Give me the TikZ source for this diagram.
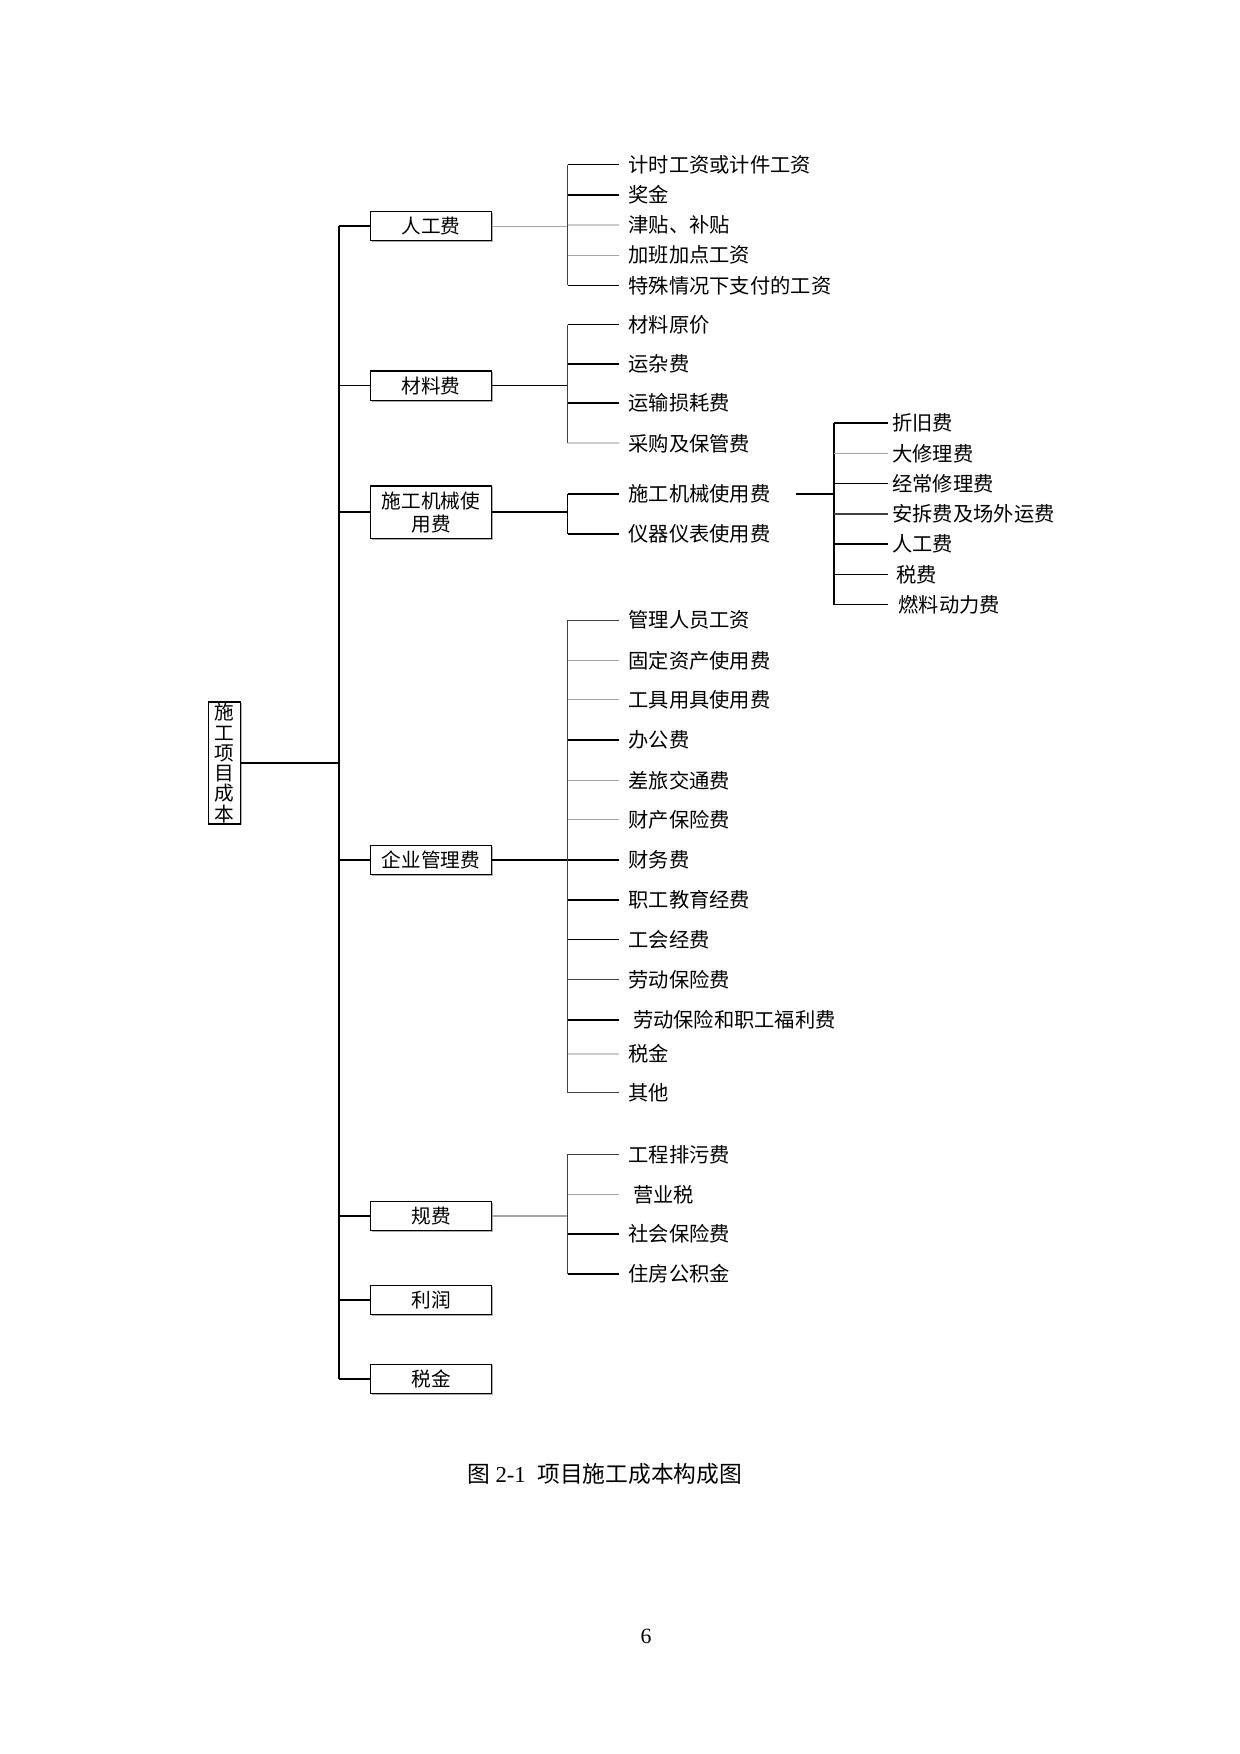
\documentclass[tikz,border=0pt]{standalone}
\usepackage{fontspec}
\setmainfont{Liberation Serif}
\newfontfamily\cjk{Noto Sans CJK SC}
\usetikzlibrary{shadows}
\begin{document}
\begin{tikzpicture}[x=0.541pt,y=-0.541pt,
  box/.style={draw=black, line width=0.6pt, fill=white, minimum width=58.4pt,
    minimum height=14.1pt, inner sep=0pt, align=center,
    font=\cjk\fontsize{9.5}{11}\selectfont,
    drop shadow={shadow xshift=0.6pt, shadow yshift=-0.6pt, fill=gray!80, opacity=0.8}},
  leaf/.style={anchor=west, inner xsep=4.3pt, inner ysep=0pt,
    font=\cjk\fontsize{9.8}{11}\selectfont},
  wk/.style={line width=0.75pt, black},
  wd/.style={line width=0.6pt, black!75},
  wg/.style={line width=0.6pt, gray!70},
  wl/.style={line width=0.9pt, gray!40},
  spine/.style={line width=0.75pt, black}]
\useasboundingbox (0,0) rectangle (1107.5,1566.6);

% ---------- root and level-1 boxes
\node[box, minimum width=15.7pt, minimum height=59pt,
      font=\cjk\fontsize{9.5}{9.8}\selectfont] (root) at (200.5,681.5) {施\\工\\项\\目\\成\\本};
\node[box] (l1) at (385,202) {人工费};
\node[box] (l2) at (385,344.5) {材料费};
\node[box, minimum height=25.4pt] (l3) at (385,457.5) {施工机械使\\用费};
\node[box] (l4) at (385,768) {企业管理费};
\node[box] (l5) at (385,1086) {规费};
\node[box] (l6) at (385,1161) {利润};
\node[box] (l7) at (385,1231.5) {税金};

\coordinate (sp) at (303,0);
\draw[spine] (l1.west -| sp) -- (l7.west -| sp);
\draw[wk] (root.east) -- (root.east -| sp);
\foreach \b in {l1,l2,l3,l4,l5,l6,l7} {\draw[wk] (\b.west) -- (\b.west -| sp);}

\coordinate (br) at (507,0);

% ---------- 人工费
\node[leaf] (a1) at (553,147) {计时工资或计件工资};
\node[leaf] (a2) at (553,174) {奖金};
\node[leaf] (a3) at (553,201) {津贴、补贴};
\node[leaf] (a4) at (553,228) {加班加点工资};
\node[leaf] (a5) at (553,255) {特殊情况下支付的工资};
\draw[wg] (l1.east) -- (l1.east -| br);
\draw[wd] (a1.west -| br) -- (a5.west -| br);
\draw[wk] (a1.west) -- (a1.west -| br);
\draw[wk] (a2.west) -- (a2.west -| br);
\draw[wl] (a3.west) -- (a3.west -| br);
\draw[wg] (a4.west) -- (a4.west -| br);
\draw[wk] (a5.west) -- (a5.west -| br);

% ---------- 材料费
\node[leaf] (b1) at (553,290) {材料原价};
\node[leaf] (b2) at (553,325) {运杂费};
\node[leaf] (b3) at (553,360) {运输损耗费};
\node[leaf] (b4) at (553,396) {采购及保管费};
\draw[wk] (l2.east) -- (l2.east -| br);
\draw[wd] (b1.west -| br) -- (b4.west -| br);
\draw[wk] (b1.west) -- (b1.west -| br);
\draw[wk] (b2.west) -- (b2.west -| br);
\draw[wk] (b3.west) -- (b3.west -| br);
\draw[wl] (b4.west) -- (b4.west -| br);

% ---------- 施工机械使用费
\node[leaf] (c1) at (553,441) {施工机械使用费};
\node[leaf] (c2) at (553,477) {仪器仪表使用费};
\draw[wk] (l3.east) -- (l3.east -| br);
\draw[wk] (c1.west -| br) -- (c2.west -| br);
\draw[wk] (c1.west) -- (c1.west -| br);
\draw[wk] (c2.west) -- (c2.west -| br);

\coordinate (sv) at (745,0);
\node[leaf, inner xsep=2pt] (d1) at (793,378) {折旧费};
\node[leaf, inner xsep=2pt] (d2) at (793,405) {大修理费};
\node[leaf, inner xsep=2pt] (d3) at (793,432) {经常修理费};
\node[leaf, inner xsep=2pt] (d4) at (793,459) {安拆费及场外运费};
\node[leaf, inner xsep=2pt] (d5) at (793,486) {人工费};
\node[leaf, inner xsep=4pt] (d6) at (793,513) {税费};
\node[leaf, inner xsep=5pt] (d7) at (793,540) {燃料动力费};
\draw[wk] ([xshift=8pt]c1.east) -- (c1.east -| sv);
\draw[wk] (d1.west -| sv) -- (d7.west -| sv);
\draw[wk] (d1.west) -- (d1.west -| sv);
\draw[wg] (d2.west) -- (d2.west -| sv);
\draw[wk] (d3.west) -- (d3.west -| sv);
\draw[wd] (d4.west) -- (d4.west -| sv);
\draw[wk] (d5.west) -- (d5.west -| sv);
\draw[wk] (d6.west) -- (d6.west -| sv);
\draw[wk] (d7.west) -- (d7.west -| sv);

% ---------- 企业管理费
\node[leaf] (e1) at (553,554) {管理人员工资};
\node[leaf] (e2) at (553,590) {固定资产使用费};
\node[leaf] (e3) at (553,625) {工具用具使用费};
\node[leaf] (e4) at (553,661) {办公费};
\node[leaf] (e5) at (553,697) {差旅交通费};
\node[leaf] (e6) at (553,732) {财产保险费};
\node[leaf] (e7) at (553,768) {财务费};
\node[leaf] (e8) at (553,804) {职工教育经费};
\node[leaf] (e9) at (553,839) {工会经费};
\node[leaf] (e10) at (553,875) {劳动保险费};
\node[leaf, inner xsep=6.5pt] (e11) at (553,911) {劳动保险和职工福利费};
\node[leaf] (e12) at (553,941) {税金};
\node[leaf] (e13) at (553,976) {其他};
\draw[wk] (l4.east) -- (l4.east -| br);
\draw[wd] (e1.west -| br) -- (e13.west -| br);
\draw[wd] (e1.west) -- (e1.west -| br);
\draw[wg] (e2.west) -- (e2.west -| br);
\draw[wg] (e3.west) -- (e3.west -| br);
\draw[wk] (e4.west) -- (e4.west -| br);
\draw[wg] (e5.west) -- (e5.west -| br);
\draw[wg] (e6.west) -- (e6.west -| br);
\draw[wk] (e7.west) -- (e7.west -| br);
\draw[wk] (e8.west) -- (e8.west -| br);
\draw[wk] (e9.west) -- (e9.west -| br);
\draw[wd] (e10.west) -- (e10.west -| br);
\draw[wk] (e11.west) -- (e11.west -| br);
\draw[wl] (e12.west) -- (e12.west -| br);
\draw[wd] (e13.west) -- (e13.west -| br);

% ---------- 规费
\node[leaf] (f1) at (553,1031) {工程排污费};
\node[leaf, inner xsep=6.5pt] (f2) at (553,1067) {营业税};
\node[leaf] (f3) at (553,1102) {社会保险费};
\node[leaf] (f4) at (553,1138) {住房公积金};
\draw[wg] (l5.east) -- (l5.east -| br);
\draw[wd] (f1.west -| br) -- (f4.west -| br);
\draw[wd] (f1.west) -- (f1.west -| br);
\draw[wg] (f2.west) -- (f2.west -| br);
\draw[wk] (f3.west) -- (f3.west -| br);
\draw[wk] (f4.west) -- (f4.west -| br);

% ---------- caption and page number
\node[font=\fontsize{11}{13}\selectfont] (cap) at (540,1316)
  {{\cjk 图}~2-1\enspace{\cjk 项目施工成本构成图}};
\node[font=\fontsize{10.5}{12}\selectfont] (pg) at (577,1462) {6};
\end{tikzpicture}
\end{document}
